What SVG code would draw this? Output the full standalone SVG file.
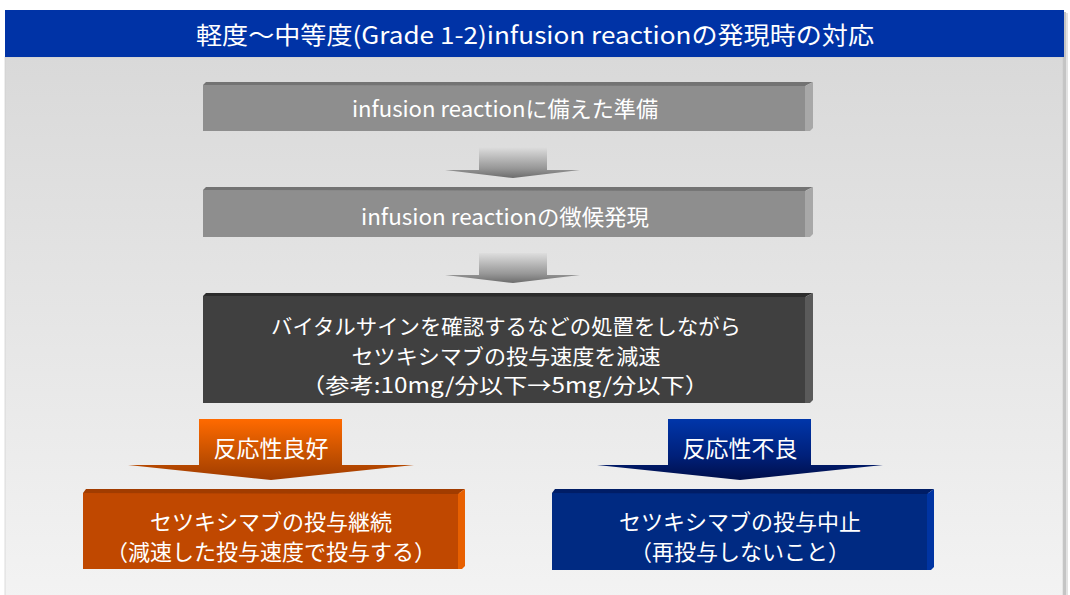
<svg xmlns="http://www.w3.org/2000/svg" width="1070" height="595" viewBox="0 0 1070 595">
<defs>
<linearGradient id="bodyGrad" x1="0" y1="0" x2="0" y2="1">
<stop offset="0" stop-color="#d9d9d9"/>
<stop offset="1" stop-color="#f3f3f3"/>
</linearGradient>
<linearGradient id="grayArrow" x1="0" y1="0" x2="0" y2="1">
<stop offset="0" stop-color="#dedede"/>
<stop offset="0.7" stop-color="#969696"/>
<stop offset="1" stop-color="#6c6c6c"/>
</linearGradient>
<linearGradient id="orangeArrow" x1="0" y1="0" x2="0" y2="1">
<stop offset="0" stop-color="#ff6a00"/>
<stop offset="0.6" stop-color="#c45000"/>
<stop offset="1" stop-color="#a03c00"/>
</linearGradient>
<linearGradient id="blueArrow" x1="0" y1="0" x2="0" y2="1">
<stop offset="0" stop-color="#0036aa"/>
<stop offset="0.6" stop-color="#00207a"/>
<stop offset="1" stop-color="#000f4a"/>
</linearGradient>
</defs>
<style>
text{font-family:"Noto Sans CJK JP","Noto Sans",sans-serif;fill:#ffffff;text-anchor:middle}
.title{font-size:24px}
.t22{font-size:22px}
.t21{font-size:21px}
.lbl{font-size:23px}
.gFace{fill:#8e8e8e}.gTop{fill:#737373}.gRight{fill:#a8a8a8}
.dFace{fill:#404040}.dTop{fill:#2c2c2c}.dRight{fill:#5a5a5a}
.oFace{fill:#c04800}.oTop{fill:#a13c00}.oRight{fill:#e86000}
.bFace{fill:#002a82}.bTop{fill:#001d66}.bRight{fill:#0034a2}
</style>
<rect x="0" y="0" width="1070" height="595" fill="#ffffff"/>
<g id="panel">
<rect x="1063" y="12" width="3" height="590" fill="#c4c4c4"/>
<rect x="1066" y="13" width="2" height="590" fill="#e2e2e2"/>
<rect x="5" y="57" width="1058" height="545" fill="url(#bodyGrad)" stroke="#c8c8c8" stroke-width="0.6"/>
</g>
<g id="title">
<rect x="5" y="10" width="1059" height="47" fill="#0033a6"/>
<text class="title" x="535" y="44" textLength="678" lengthAdjust="spacingAndGlyphs">軽度～中等度(Grade 1-2)infusion reactionの発現時の対応</text>
</g>
<g id="connectors">
<path d="M479,147 H547 V170 H580 L513,178 L445,170 H479 Z" fill="url(#grayArrow)"/>
<path d="M479,253 H547 V275 H580 L513,283 L445,275 H479 Z" fill="url(#grayArrow)"/>
<g id="arrow-good">
<path d="M199,419 H342 V465 H414 L271,480 L128,465 H199 Z" fill="url(#orangeArrow)"/>
<text class="lbl" x="271" y="457">反応性良好</text>
</g>
<g id="arrow-bad">
<path d="M668,419 H811 V465 H883 L740,480 L597,465 H668 Z" fill="url(#blueArrow)"/>
<text class="lbl" x="740" y="457">反応性不良</text>
</g>
</g>
<g id="node-prep">
<rect class="gFace" x="203" y="85" width="603" height="46"/>
<polygon class="gTop" points="203,85 206,82 813,82 805,86"/>
<polygon class="gRight" points="805,86 813,82 813,128 810,131 805,131"/>
<text class="t22" x="505" y="117" textLength="306" lengthAdjust="spacingAndGlyphs">infusion reactionに備えた準備</text>
</g>
<g id="node-sign">
<rect class="gFace" x="203" y="190" width="603" height="47"/>
<polygon class="gTop" points="203,190 206,187 813,187 805,191"/>
<polygon class="gRight" points="805,191 813,187 813,234 810,237 805,237"/>
<text class="t22" x="505" y="225" textLength="288" lengthAdjust="spacingAndGlyphs">infusion reactionの徴候発現</text>
</g>
<g id="node-slow">
<rect class="dFace" x="203" y="296" width="603" height="107"/>
<polygon class="dTop" points="203,296 206,293 813,293 805,297"/>
<polygon class="dRight" points="805,297 813,293 813,400 810,403 805,403"/>
<text class="t21" x="506" y="334" textLength="470" lengthAdjust="spacingAndGlyphs">バイタルサインを確認するなどの処置をしながら</text>
<text class="t21" x="506" y="364" textLength="309" lengthAdjust="spacingAndGlyphs">セツキシマブの投与速度を減速</text>
<text class="t21" x="505" y="393" textLength="408" lengthAdjust="spacingAndGlyphs">（参考:10mg/分以下→5mg/分以下）</text>
</g>
<g id="node-continue">
<rect class="oFace" x="83" y="493" width="376" height="76"/>
<polygon class="oTop" points="83,493 86,489 465,489 458,494"/>
<polygon class="oRight" points="458,494 465,489 465,566 462,569 458,569"/>
<text class="t22" x="271" y="530">セツキシマブの投与継続</text>
<text class="t22" x="271" y="560">（減速した投与速度で投与する）</text>
</g>
<g id="node-stop">
<rect class="bFace" x="552" y="493" width="376" height="77"/>
<polygon class="bTop" points="552,493 555,489 934,489 927,494"/>
<polygon class="bRight" points="927,494 934,489 934,567 931,570 927,570"/>
<text class="t22" x="740" y="530">セツキシマブの投与中止</text>
<text class="t22" x="740" y="560">（再投与しないこと）</text>
</g>
</svg>
